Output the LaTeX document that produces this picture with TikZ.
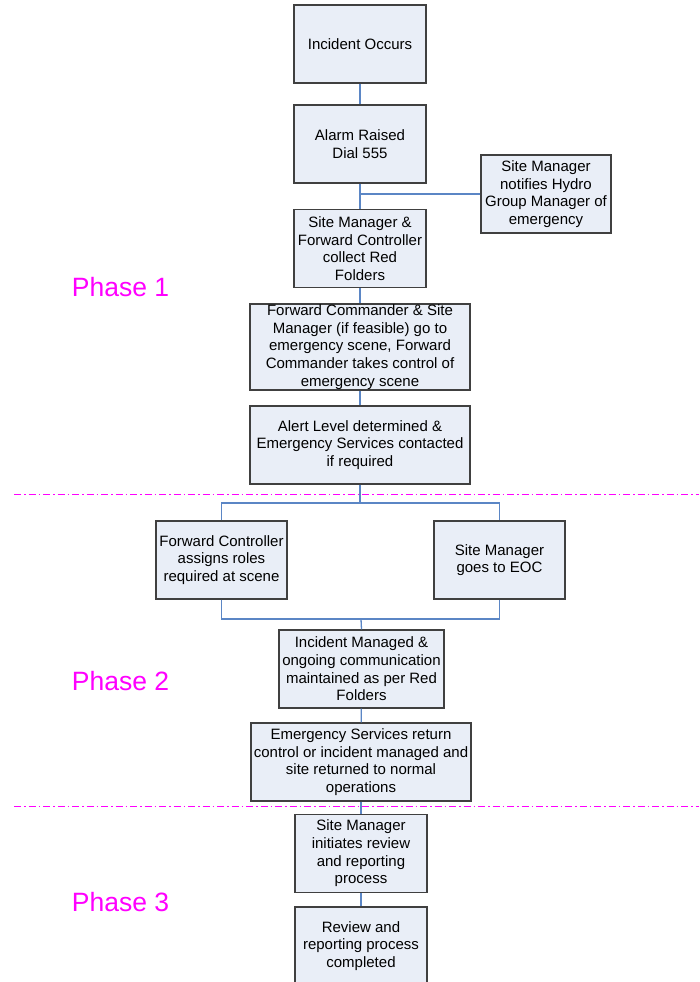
\documentclass[tikz,border=0pt]{standalone}
\usepackage{fontspec}
\setmainfont{Liberation Sans}
\definecolor{boxfill}{HTML}{E9EEF7}
\definecolor{boxline}{HTML}{404040}
\definecolor{linkblue}{HTML}{5B86C5}
\definecolor{phasepink}{HTML}{FF00FF}

\begin{document}
\begin{tikzpicture}[x=1pt,y=-1pt,
  stepbox/.style={draw=boxline, fill=boxfill, line width=1.2pt, align=center,
    inner sep=0pt, minimum height=78pt, font=\fontsize{15}{17.6}\selectfont},
  link/.style={draw=linkblue, line width=1.3pt},
  phaseline/.style={draw=phasepink, line width=1pt,
    dash pattern=on 7pt off 3pt on 1.5pt off 3pt},
  phase/.style={text=phasepink, font=\fontsize{26.5}{30}\selectfont}]
  \useasboundingbox (0,0) rectangle (699,982);
  \def\mx{360}   % main column

  % phase 1
  \node[stepbox, minimum width=132pt] (occur) at (\mx,44) {Incident Occurs};
  \node[stepbox, minimum width=132pt] (alarm) at (\mx,144) {Alarm Raised\\Dial 555};
  \node[stepbox, minimum width=130pt] (notify) at (546,194) {Site Manager\\notifies Hydro\\Group Manager of\\emergency};
  \node[stepbox, minimum width=132pt] (collect) at (\mx,248.5) {Site Manager \&\\Forward Controller\\collect Red\\Folders};
  \node[stepbox, minimum width=220pt, minimum height=86pt] (scene) at (\mx,347) {Forward Commander \& Site\\Manager (if feasible) go to\\emergency scene, Forward\\Commander takes control of\\emergency scene};
  \node[stepbox, minimum width=220pt] (alert) at (\mx,445) {Alert Level determined \&\\Emergency Services contacted\\if required};

  % phase 2
  \node[stepbox, minimum width=131pt] (roles) at (221.5,560) {Forward Controller\\assigns roles\\required at scene};
  \node[stepbox, minimum width=131pt] (eoc) at (499.5,560) {Site Manager\\goes to EOC};
  \node[stepbox, minimum width=165pt] (managed) at (361.5,669) {Incident Managed \&\\ongoing communication\\maintained as per Red\\Folders};
  \node[stepbox, minimum width=220pt] (normal) at (361,762) {Emergency Services return\\control or incident managed and\\site returned to normal\\operations};

  % phase 3
  \node[stepbox, minimum width=132pt] (review) at (361,853.5) {Site Manager\\initiates review\\and reporting\\process};
  \node[stepbox, minimum width=132pt] (done) at (361,946) {Review and\\reporting process\\completed};

  \coordinate (split) at (\mx,503);
  \coordinate (join) at (361,619);

  \foreach \a/\b in {occur/alarm, alarm/collect, collect/scene, scene/alert,
                     managed/normal, normal/review, review/done}
    { \draw[link] (\a) -- (\b); }
  \draw[link] (notify.west) -- (notify.west -| alarm.south);
  \draw[link] (alert.south) -- (split);
  \draw[link] (roles.north) |- (split) -| (eoc.north);
  \draw[link] (roles.south) |- (join) -| (eoc.south);
  \draw[link] (join) -- (managed.north);

  % phase borders
  \coordinate (b1) at (14,494);
  \coordinate (b2) at (14,806);
  \draw[phaseline] (b1) -- (b1 -| 699,0);
  \draw[phaseline] (b2) -- (b2 -| 699,0);

  \node[phase] (ph1) at (120.5,287) {Phase 1};
  \node[phase] (ph2) at (120.5,681) {Phase 2};
  \node[phase] (ph3) at (120.5,902) {Phase 3};
\end{tikzpicture}
\end{document}
